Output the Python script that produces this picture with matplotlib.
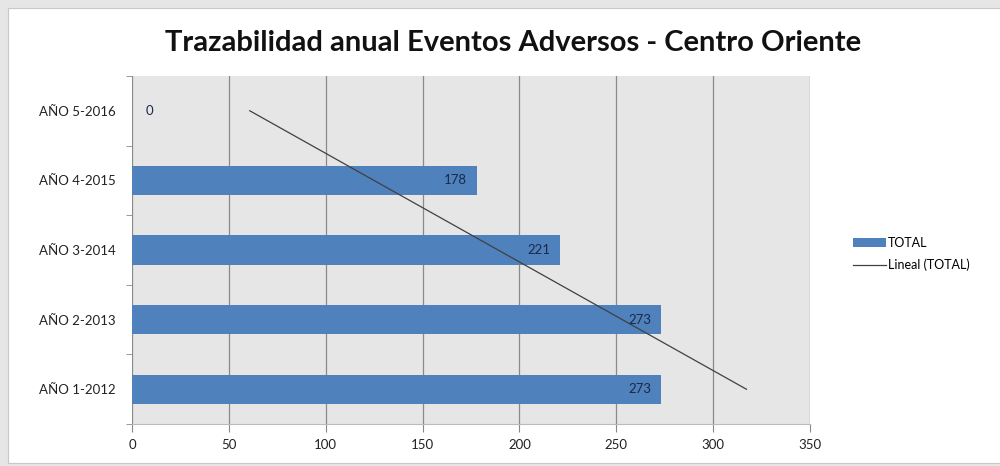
import numpy as np
import matplotlib.pyplot as plt
from matplotlib.patches import Rectangle

categorias = ['AÑO 1-2012', 'AÑO 2-2013', 'AÑO 3-2014', 'AÑO 4-2015', 'AÑO 5-2016']
totales = [273, 273, 221, 178, 0]
ticks_x = [0, 50, 100, 150, 200, 250, 300, 350]

azul = '#4F81BD'
fuente = ['Lato', 'DejaVu Sans']

fig = plt.figure(figsize=(10, 4.66), dpi=100)
fig.patch.set_facecolor('#e6e6e6')

# panel blanco del grafico, detras de todo
fondo = fig.add_axes([0, 0, 1, 1], zorder=-10)
fondo.set_xlim(0, 1)
fondo.set_ylim(0, 1)
fondo.axis('off')
fondo.add_patch(Rectangle((0.008, 0.006), 1.0, 0.977, facecolor='white',
                          edgecolor='#c8c8c8', linewidth=0.8))

ax = fig.add_axes([0.132, 0.090, 0.678, 0.747])
ax.set_facecolor('#e6e6e6')

pos = np.arange(len(categorias))
barras = ax.barh(pos, totales, height=0.42, color=azul, linewidth=0,
                 label='TOTAL', zorder=3)

# linea de tendencia lineal
m, b = np.polyfit(pos, totales, 1)
tendencia, = ax.plot(m * pos + b, pos, color='#404040', linewidth=0.9,
                     label='Lineal (TOTAL)', zorder=4)

for p, v in zip(pos, totales):
    if v > 0:
        ax.text(v - 5, p, str(v), ha='right', va='center', fontsize=9.5,
                color='#1a2a4a', family=fuente, zorder=5)
    else:
        ax.text(v + 7, p, str(v), ha='left', va='center', fontsize=9.5,
                color='#1a2a4a', family=fuente, zorder=5)

ax.set_xlim(0, 350)
ax.set_ylim(-0.5, len(categorias) - 0.5)
ax.set_xticks(ticks_x)
ax.set_xticklabels([str(t) for t in ticks_x], family=fuente, fontsize=9.5, color='#222222')
ax.set_yticks(pos)
ax.set_yticklabels(categorias, family=fuente, fontsize=9.5, color='#222222')
ax.tick_params(axis='y', length=0, pad=12)
ax.tick_params(axis='x', length=6, color='#888888', pad=5, direction='out')
ax.set_yticks(np.arange(-0.5, len(categorias), 1), minor=True)
ax.tick_params(axis='y', which='minor', length=4, color='#888888')

ax.grid(axis='x', color='#8a8a8a', linewidth=0.9, zorder=1)
ax.set_axisbelow(True)
for lado in ['top', 'right', 'left']:
    ax.spines[lado].set_visible(False)
ax.spines['bottom'].set_color('#bbbbbb')

fig.text(0.513, 0.908, 'Trazabilidad anual Eventos Adversos - Centro Oriente',
         ha='center', va='center', fontsize=21, fontweight='bold',
         family=fuente, color='#111111')

fig.legend([barras, tendencia], ['TOTAL', 'Lineal (TOTAL)'],
           loc='center left', bbox_to_anchor=(0.842, 0.455), frameon=False,
           prop={'family': fuente, 'size': 9}, handlelength=2.6,
           handletextpad=0.2, labelspacing=0.8)

fig.savefig('out.png', dpi=100, facecolor=fig.get_facecolor())
